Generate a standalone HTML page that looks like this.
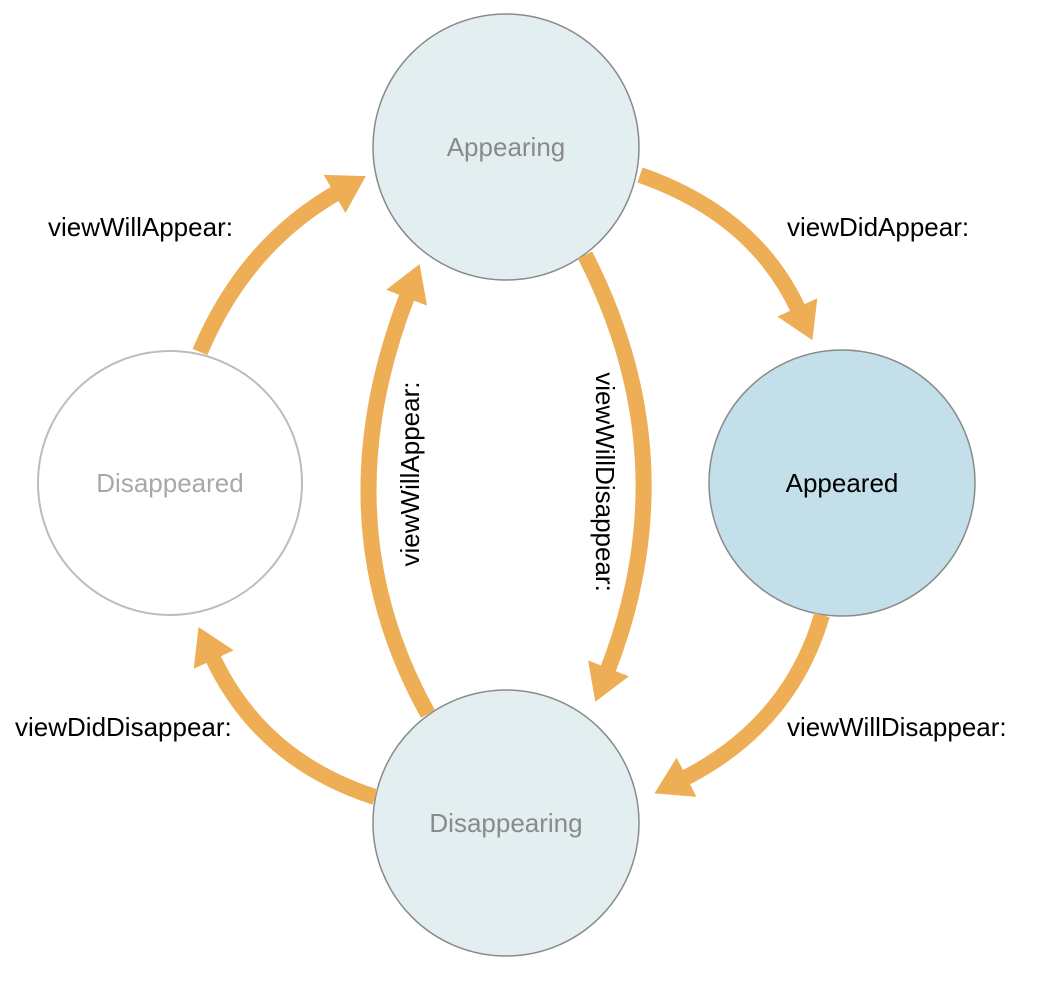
<!DOCTYPE html>
<html><head><meta charset="utf-8"><style>html,body{margin:0;padding:0;background:#fff}</style></head>
<body>
<svg width="1046" height="980" viewBox="0 0 1046 980" xmlns="http://www.w3.org/2000/svg" font-family="Liberation Sans, sans-serif">
<defs>
<marker id="a" markerUnits="userSpaceOnUse" markerWidth="36" markerHeight="44" refX="4" refY="22" orient="auto" viewBox="0 0 36 44">
<polygon points="0,0 36,22 0,44" fill="#eeae56"/>
</marker>
</defs>
<circle cx="506" cy="147" r="133" fill="#e2eef0" stroke="#8a8a8a" stroke-width="1.5"/>
<circle cx="170" cy="483" r="132" fill="#fff" stroke="#bcbcbc" stroke-width="2"/>
<circle cx="842" cy="483" r="133" fill="#c3dfe9" stroke="#8a8a8a" stroke-width="1.5"/>
<circle cx="506" cy="823" r="133" fill="#e2eef0" stroke="#8a8a8a" stroke-width="1.5"/>
<g fill="none" stroke="#eeae56" stroke-width="16" marker-end="url(#a)">
<path d="M200,352 Q245,245 338,192"/>
<path d="M640,175 Q755,215 799,311"/>
<path d="M822,615 Q790,725 683,779"/>
<path d="M375,797 Q260,760 212,656"/>
<path d="M428,714 Q320,520 408,294"/>
<path d="M585,255 Q690,460 607,672"/>
</g>
<g font-size="26" text-anchor="middle">
<text x="506" y="156" fill="#8a8a8a">Appearing</text>
<text x="170" y="492" fill="#a8a8a8">Disappeared</text>
<text x="842" y="492" fill="#000">Appeared</text>
<text x="506" y="832" fill="#8a8a8a">Disappearing</text>
</g>
<g font-size="26" fill="#000">
<text x="48" y="236">viewWillAppear:</text>
<text x="787" y="236">viewDidAppear:</text>
<text x="15" y="736">viewDidDisappear:</text>
<text x="787" y="736">viewWillDisappear:</text>
<text transform="translate(419,474) rotate(-90)" text-anchor="middle">viewWillAppear:</text>
<text transform="translate(596,482) rotate(90)" text-anchor="middle">viewWillDisappear:</text>
</g>
</svg>
</body></html>
